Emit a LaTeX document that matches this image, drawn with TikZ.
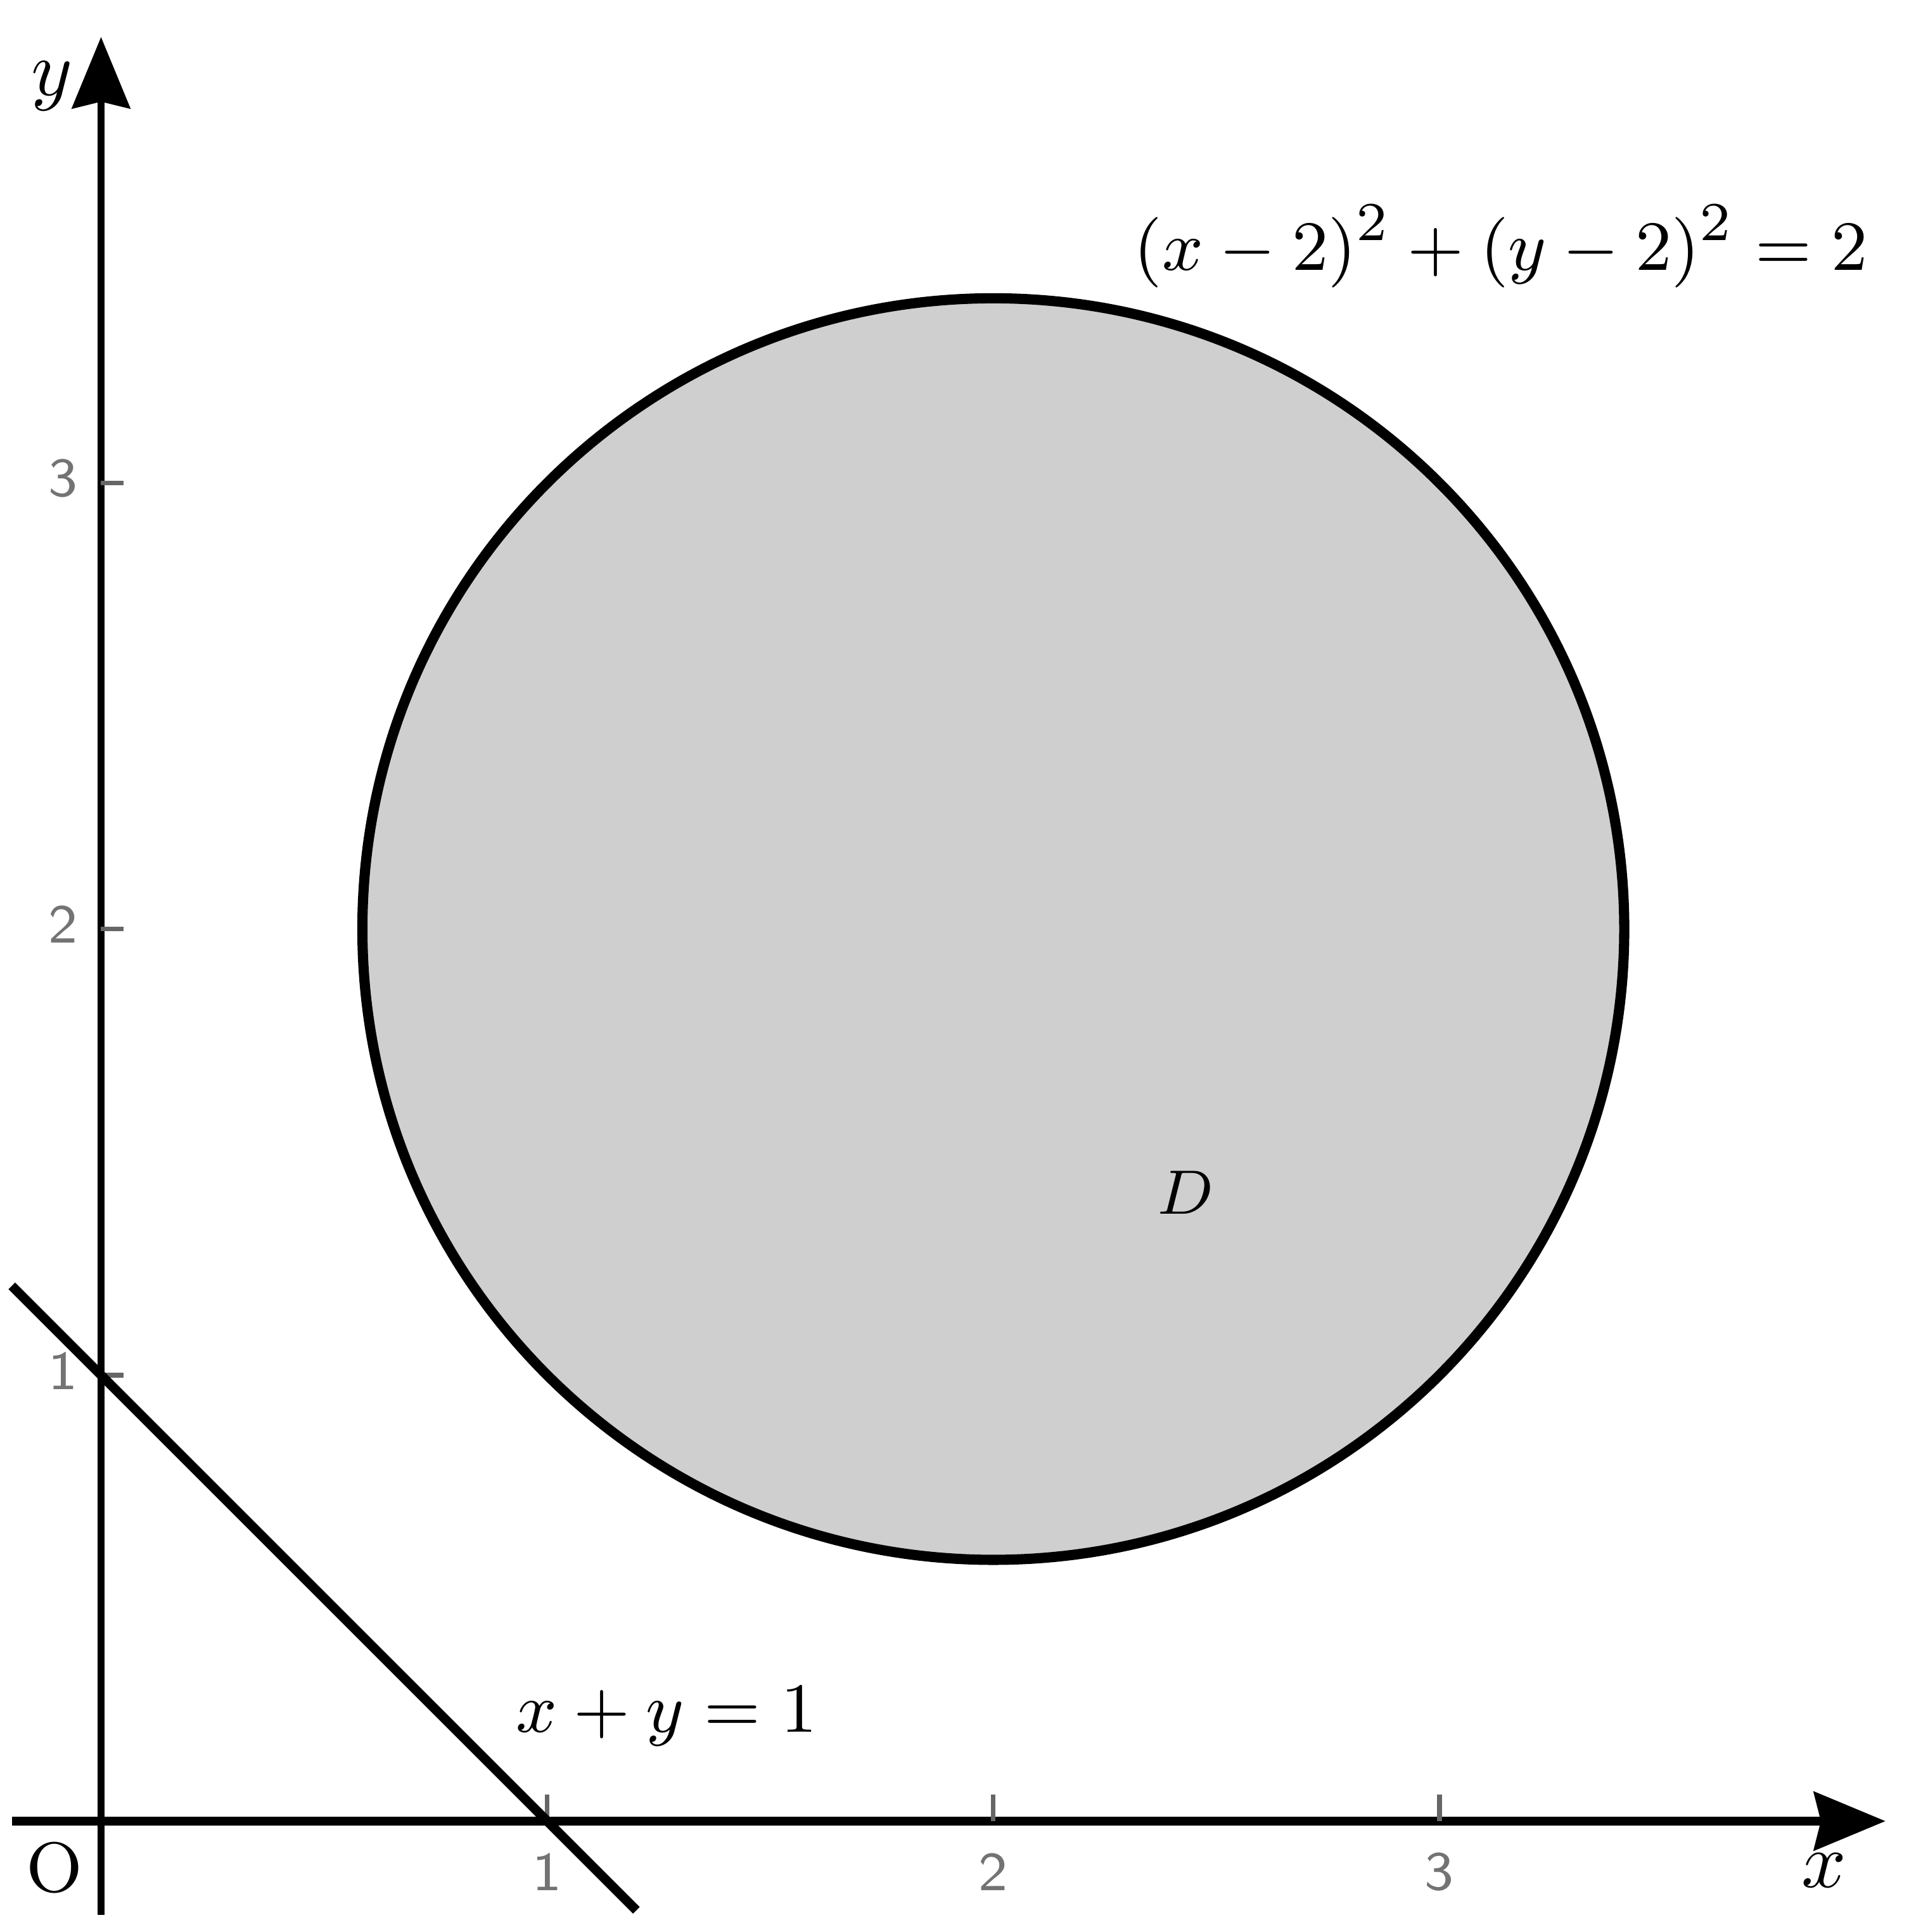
\documentclass[tikz,border=0pt]{standalone}
\usetikzlibrary{arrows.meta}
\begin{document}
\begin{tikzpicture}[x=2cm,y=2cm,
    axis/.style={-{Stealth[length=3.2mm,width=2.6mm,inset=0.3mm]}},
    tickmark/.style={black!60,line width=0.6pt},
    ticklabel/.style={text=black!55,font=\sffamily\scriptsize,inner sep=0pt},
    formula/.style={font=\fontsize{9.5}{11}\selectfont,inner sep=0pt}]
    \useasboundingbox (-0.2265,-0.2486) rectangle (4.0525,4.083);
    % the disc D
    \draw[fill=black!19,line width=1.3pt] (2,2) circle ({sqrt(2)});
    % axes
    \draw[axis,line width=1.2pt] (-0.2,0) -- (4,0);
    \draw[axis,line width=0.85pt] (0,-0.21) -- (0,4);
    \foreach \i in {1,2,3} {
        \draw[tickmark] (\i,0) -- (\i,0.06);
        \node[ticklabel] (xt\i) at (\i,-0.114) {\i};
        \draw[tickmark] (0,\i) -- (0.05,\i);
        \node[ticklabel] (yt\i) at (-0.085,\i+0.01) {\i};
    }
    % the line x+y=1
    \draw[line width=1.2pt] (-0.2,1.2) -- (1.2,-0.2);
    \node (xlab) at (3.862,-0.11) {$x$};
    \node (ylab) at (-0.11,3.89) {$y$};
    \node[font=\small] (orig) at (-0.105,-0.105) {O};
    \node[formula] (circeq) at (3.138,3.53) {$(x-2)^2+(y-2)^2=2$};
    \node[formula] (lineeq) at (1.268,0.235) {$x+y=1$};
    \node[font=\footnotesize] (dlab) at (2.431,1.409) {$D$};
\end{tikzpicture}
\end{document}
